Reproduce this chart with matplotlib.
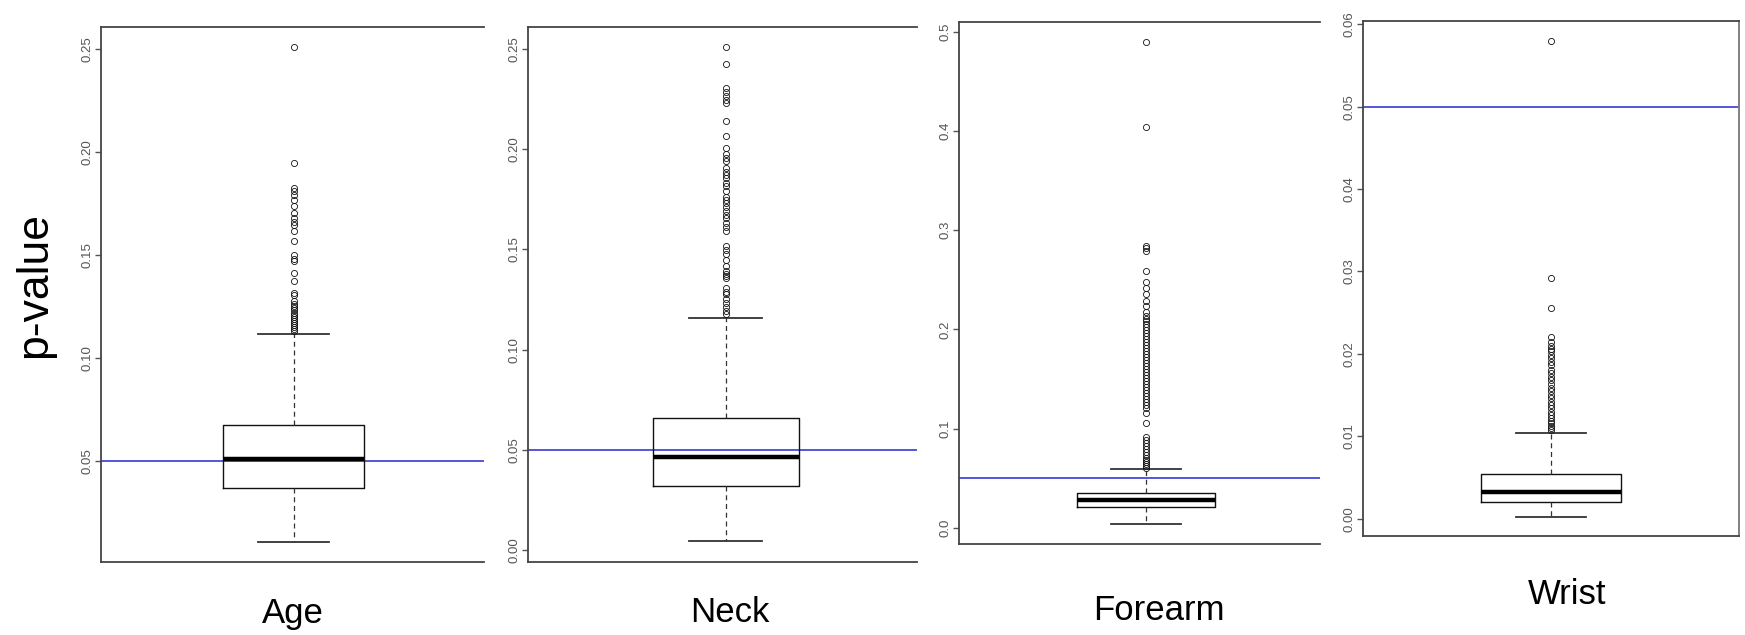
import matplotlib
matplotlib.use("Agg")
import matplotlib.pyplot as plt

plt.rcParams['font.family'] = ['Liberation Sans', 'DejaVu Sans']

W, H = 1745, 635

names = ['Age', 'Neck', 'Forearm', 'Wrist']

# box stats: q1, median, q3, lower / upper whisker
q1 = [0.0370, 0.0319, 0.0205, 0.00198]
med = [0.0510, 0.0465, 0.0275, 0.00321]
q3 = [0.0672, 0.0660, 0.0349, 0.00543]
whislo = [0.0105, 0.0047, 0.0041, 0.00025]
whishi = [0.1116, 0.1160, 0.0592, 0.01042]

age_out = [0.2510, 0.1944, 0.1825, 0.1810, 0.1790, 0.1765, 0.1735, 0.1705,
           0.1680, 0.1660, 0.1645, 0.1615, 0.1567, 0.1500, 0.1480, 0.1470,
           0.1413, 0.1375, 0.1316, 0.1305, 0.1276, 0.1262, 0.1250, 0.1240,
           0.1230, 0.1220, 0.1210, 0.1200, 0.1190, 0.1180, 0.1170, 0.1160,
           0.1150, 0.1140, 0.1130]
neck_out = [0.2511, 0.2427, 0.2306, 0.2285, 0.2267, 0.2247, 0.2231, 0.2139,
            0.2068, 0.2007, 0.1976, 0.1956, 0.1940, 0.1905, 0.1885, 0.1871,
            0.1855, 0.1834, 0.1818, 0.1790, 0.1763, 0.1749, 0.1733, 0.1712,
            0.1692, 0.1672, 0.1655, 0.1631, 0.1611, 0.1590, 0.1519, 0.1499,
            0.1479, 0.1448, 0.1418, 0.1391, 0.1377, 0.1367, 0.1357, 0.1306,
            0.1290, 0.1276, 0.1255, 0.1235, 0.1215, 0.1194, 0.1180]
forearm_out = [0.4897, 0.4043, 0.2843, 0.2820, 0.2795, 0.2584, 0.2480, 0.2420,
               0.2360, 0.2290, 0.2240, 0.2180, 0.2140, 0.2110, 0.2080, 0.2050,
               0.2020, 0.1990, 0.1960, 0.1930, 0.1900, 0.1870, 0.1840, 0.1810,
               0.1780, 0.1750, 0.1720, 0.1690, 0.1660, 0.1630, 0.1600, 0.1570,
               0.1540, 0.1510, 0.1480, 0.1450, 0.1420, 0.1390, 0.1360, 0.1330,
               0.1300, 0.1270, 0.1240, 0.1210, 0.1160, 0.1060, 0.0910, 0.0880,
               0.0850, 0.0820, 0.0790, 0.0760, 0.0730, 0.0700, 0.0680, 0.0660,
               0.0640, 0.0620, 0.0600]
wrist_out = [0.0580, 0.0292, 0.0256, 0.0221, 0.0215, 0.0210, 0.0206, 0.0203,
             0.0199, 0.0195, 0.0190, 0.0186, 0.0181, 0.0177, 0.0172, 0.0168,
             0.0163, 0.0159, 0.0155, 0.0150, 0.0146, 0.0142, 0.0138, 0.0134,
             0.0130, 0.0126, 0.0122, 0.0119, 0.0116, 0.0113, 0.0110, 0.0108]
outliers = [age_out, neck_out, forearm_out, wrist_out]

cutoff = 0.05
yticks = [[0.05, 0.10, 0.15, 0.20, 0.25],
          [0.00, 0.05, 0.10, 0.15, 0.20, 0.25],
          [0.0, 0.1, 0.2, 0.3, 0.4, 0.5],
          [0.00, 0.01, 0.02, 0.03, 0.04, 0.05, 0.06]]
tick_fmt = ['%.2f', '%.2f', '%.1f', '%.2f']
ylims = [(0.0009, 0.2606), (-0.0059, 0.2610), (-0.0164, 0.5100), (-0.0021, 0.0604)]

# panel boxes in pixels: left, right, top, bottom
panels = [(101, 484, 27, 562), (528, 917, 27, 562),
          (959, 1320, 22, 544), (1363, 1739, 21, 536)]
centers = [0.503, 0.508, 0.518, 0.500]
bwidth = [0.368, 0.375, 0.383, 0.370]
label_pos = [(293, 614), (730, 613), (1159, 610), (1567, 594)]

fig = plt.figure(figsize=(W / 100, H / 100), dpi=100)

for i in range(4):
    l, r, t, b = panels[i]
    ax = fig.add_axes([l / W, 1 - b / H, (r - l) / W, (b - t) / H])
    ax.axhline(cutoff, color='#4848d8', lw=1.3, zorder=1)
    st = [dict(q1=q1[i], med=med[i], q3=q3[i], whislo=whislo[i],
               whishi=whishi[i], fliers=outliers[i])]
    ax.bxp(st, positions=[0], widths=[bwidth[i]], capwidths=[bwidth[i] / 2],
           boxprops=dict(color='#111111', lw=1.0),
           medianprops=dict(color='black', lw=3.2),
           whiskerprops=dict(color='#333333', lw=0.9, linestyle=(0, (4, 3))),
           capprops=dict(color='#333333', lw=1.3),
           flierprops=dict(marker='o', markerfacecolor='none',
                           markeredgecolor='#111111', markersize=4.4,
                           markeredgewidth=0.6))
    ax.set_xlim(-centers[i], 1 - centers[i])
    ax.set_ylim(*ylims[i])
    ax.set_xticks([])
    ax.set_yticks(yticks[i])
    ax.set_yticklabels([tick_fmt[i] % v for v in yticks[i]], rotation=90,
                       va='center', fontsize=9.5, color='#555555')
    ax.tick_params(axis='y', length=4.5, width=1, color='#555555', pad=1)
    for s in ['top', 'left', 'bottom', 'right']:
        ax.spines[s].set_color('#444444')
        ax.spines[s].set_linewidth(1.3)
    if i < 3:
        ax.spines['right'].set_visible(False)
    else:
        ax.spines['right'].set_color('#777777')
    fig.text(label_pos[i][0] / W, 1 - label_pos[i][1] / H, names[i],
             ha='center', va='center', fontsize=25)

fig.text(35 / W, 1 - 285 / H, 'p-value', rotation=90, ha='center',
         va='center', fontsize=32)

fig.savefig('out.png', dpi=100)
